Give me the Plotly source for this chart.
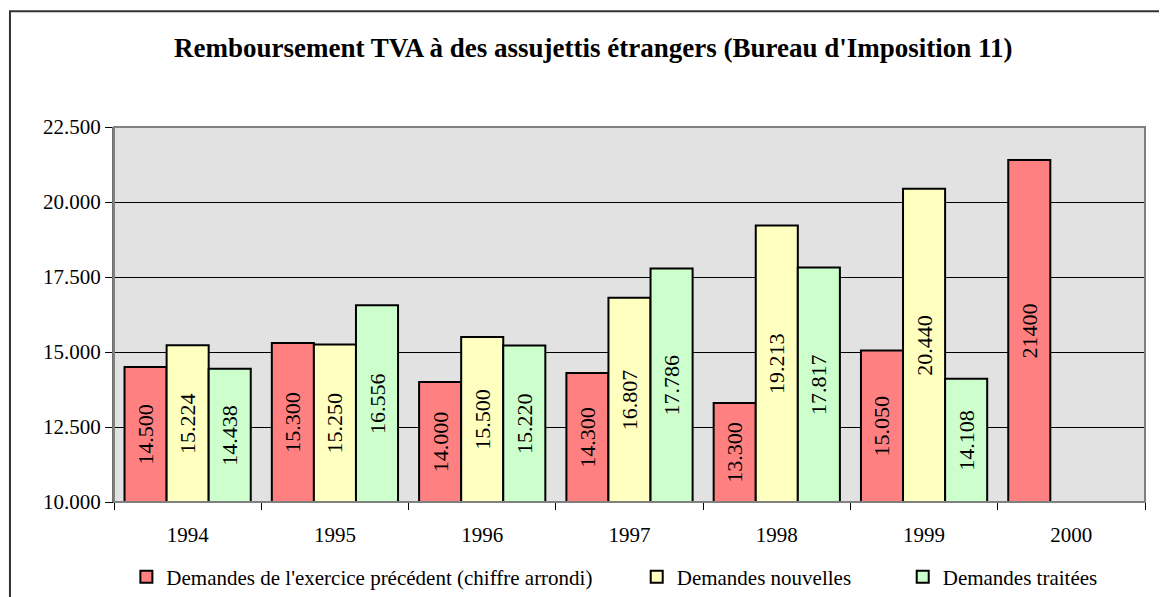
import plotly.graph_objects as go

# data
years = ["1994", "1995", "1996", "1997", "1998", "1999", "2000"]
prev_year = [14500, 15300, 14000, 14300, 13300, 15050, 21400]
new_requests = [15224, 15250, 15500, 16807, 19213, 20440, None]
processed = [14438, 16556, 15220, 17786, 17817, 14108, None]

series_names = [
    "Demandes de l'exercice précédent (chiffre arrondi)",
    "Demandes nouvelles",
    "Demandes traitées",
]
series_colors = ["#FF8080", "#FFFFC0", "#CCFFCC"]

y_ticks = [10000, 12500, 15000, 17500, 20000, 22500]
AXIS_MIN = 10000  # bars start at the bottom of the value axis, like in Excel

FONT = "Liberation Serif, Times New Roman, serif"


def fmt(v):
    if v is None:
        return ""
    return f"{v:,}".replace(",", ".")


def labels(values, raw_last=False):
    out = [fmt(v) for v in values]
    # the 2000 figure is printed without a thousands separator
    if raw_last and values[-1] is not None:
        out[-1] = str(values[-1])
    return out


fig = go.Figure()
all_series = [prev_year, new_requests, processed]
legend_ids = ["legend2", "legend3", "legend4"]
for i, (vals, name, color) in enumerate(zip(all_series, series_names, series_colors)):
    fig.add_trace(
        go.Bar(
            x=years,
            y=[None if v is None else v - AXIS_MIN for v in vals],
            base=AXIS_MIN,
            name=name,
            marker=dict(color=color, line=dict(color="black", width=2)),
            text=labels(vals, raw_last=(i == 0)),
            textposition="inside",
            insidetextanchor="middle",
            textangle=-90,
            textfont=dict(family=FONT, size=22, color="black"),
            legend=legend_ids[i],
            customdata=vals,
            hovertemplate="%{x}: %{customdata:,d}<extra>%{fullData.name}</extra>",
        )
    )

legend_style = dict(
    orientation="h",
    yanchor="middle",
    y=-0.2,
    xanchor="left",
    font=dict(family=FONT, size=21, color="black"),
    bgcolor="rgba(0,0,0,0)",
    itemwidth=30,
)

# the page puts the figure 8px in from the top-left corner, so the
# figure is 8px smaller than the window and the margins account for it
fig.update_layout(
    width=1159,
    height=589,
    margin=dict(l=106, r=22, t=119, b=95, autoexpand=False),
    paper_bgcolor="white",
    plot_bgcolor="#e2e2e2",
    separators=",.",
    barmode="group",
    bargap=0.143,
    bargroupgap=0,
    title=dict(
        text="<b>Remboursement TVA à des assujettis étrangers (Bureau d'Imposition 11)</b>",
        x=0.505,
        xanchor="center",
        y=0.933,
        yanchor="middle",
        font=dict(family=FONT, size=27, color="black"),
    ),
    xaxis=dict(
        type="category",
        tickson="boundaries",
        ticks="outside",
        ticklen=7,
        tickcolor="black",
        showline=True,
        linecolor="black",
        linewidth=1,
        showgrid=False,
        tickfont=dict(family=FONT, size=21, color="black"),
        ticklabelstandoff=14,
    ),
    yaxis=dict(
        range=[10000, 22500],
        tickvals=y_ticks,
        tickformat=",d",
        ticks="outside",
        ticklen=7,
        tickcolor="black",
        showline=True,
        linecolor="#707070",
        linewidth=2,
        showgrid=True,
        gridcolor="black",
        gridwidth=1,
        zeroline=False,
        tickfont=dict(family=FONT, size=21, color="black"),
    ),
    showlegend=True,
    legend2=dict(legend_style, x=0.012),
    legend3=dict(legend_style, x=0.507),
    legend4=dict(legend_style, x=0.765),
    shapes=[
        # grey frame around the plot area
        dict(type="rect", xref="paper", yref="paper", x0=0, x1=1, y0=0, y1=1,
             line=dict(color="#808080", width=2), layer="above"),
        # outer chart border (only left/top are visible)
        dict(type="rect", xref="paper", yref="paper", x0=-0.1009, x1=1.2,
             y0=-0.5, y1=1.309, line=dict(color="#333333", width=2)),
    ],
)

fig.write_html("out.html")
